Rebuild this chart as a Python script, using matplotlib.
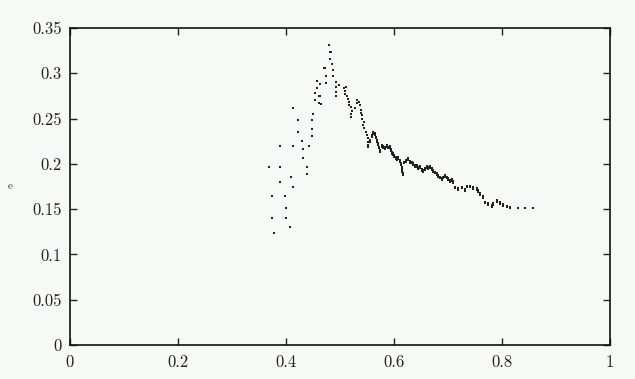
import matplotlib
matplotlib.use("Agg")
import matplotlib.pyplot as plt

# Scattered rising branch (left)
x_left = [0.3691, 0.3747, 0.3747, 0.3784, 0.3883, 0.3883, 0.3883, 0.3975, 0.4006, 0.4006,
          0.4068, 0.4099, 0.4130, 0.4130, 0.4136, 0.4228, 0.4228, 0.4290, 0.4320, 0.4320,
          0.4383, 0.4383, 0.4420, 0.4481, 0.4481, 0.4481, 0.4506, 0.4537, 0.4543, 0.4580,
          0.4580, 0.4605, 0.4611, 0.4630, 0.4640, 0.4636, 0.4704, 0.4716, 0.4735, 0.4735,
          0.4740, 0.4796, 0.4815, 0.4830, 0.4815, 0.4858, 0.4864, 0.4864, 0.4926, 0.4926,
          0.4926, 0.4926, 0.4988]
y_left = [0.1969, 0.1649, 0.1402, 0.1233, 0.2194, 0.1969, 0.1796, 0.1649, 0.1513, 0.1402,
          0.1306, 0.1855, 0.2194, 0.1741, 0.2613, 0.2481, 0.2348, 0.2252, 0.2160, 0.2065,
          0.1969, 0.1891, 0.2194, 0.2481, 0.2385, 0.2307, 0.2554, 0.2780, 0.2705, 0.2910,
          0.2834, 0.2746, 0.2668, 0.2750, 0.2660, 0.2878, 0.3055, 0.3060, 0.2974, 0.2896,
          0.2970, 0.3310, 0.3239, 0.3239, 0.3158, 0.3106, 0.3040, 0.2970, 0.2907, 0.2845,
          0.2797, 0.2746, 0.2870]

# Falling branch (middle, denser)
x_mid = [0.5080, 0.5117, 0.5099, 0.5093, 0.5123, 0.5148, 0.5173, 0.5173, 0.5198, 0.5222,
         0.5204, 0.5210, 0.5278, 0.5309, 0.5321, 0.5358, 0.5370, 0.5383, 0.5389, 0.5401,
         0.5414, 0.5432, 0.5444, 0.5451, 0.5475, 0.5494, 0.5512, 0.5525, 0.5525, 0.5556,
         0.5586, 0.5617, 0.5648, 0.5660, 0.5679, 0.5698, 0.5722, 0.5741, 0.5772, 0.5802,
         0.5833, 0.5864, 0.5895, 0.5926, 0.5944, 0.5969, 0.5988, 0.6006, 0.6031, 0.6050,
         0.6080, 0.6111, 0.6130, 0.6142, 0.6154, 0.6173]
y_mid = [0.2834, 0.2852, 0.2804, 0.2771, 0.2749, 0.2720, 0.2686, 0.2653, 0.2624, 0.2584,
         0.2551, 0.2521, 0.2613, 0.2668, 0.2705, 0.2686, 0.2650, 0.2595, 0.2565, 0.2539,
         0.2495, 0.2429, 0.2466, 0.2392, 0.2355, 0.2319, 0.2282, 0.2245, 0.2208, 0.2263,
         0.2319, 0.2355, 0.2337, 0.2300, 0.2263, 0.2227, 0.2190, 0.2153, 0.2208, 0.2197,
         0.2183, 0.2208, 0.2190, 0.2197, 0.2161, 0.2134, 0.2116, 0.2098, 0.2079, 0.2061,
         0.2079, 0.2043, 0.2006, 0.1969, 0.1932, 0.1902]

# Tail (right, dense line of points)
x_tail = [0.6191, 0.6216, 0.6253, 0.6296, 0.6327, 0.6358, 0.6389, 0.6420, 0.6451, 0.6481,
          0.6512, 0.6543, 0.6574, 0.6605, 0.6636, 0.6667, 0.6698, 0.6728, 0.6759, 0.6790,
          0.6821, 0.6852, 0.6883, 0.6914, 0.6944, 0.6975, 0.7006, 0.7037, 0.7068, 0.7099,
          0.7130, 0.7191, 0.7253, 0.7315, 0.7346, 0.7407, 0.7469, 0.7531, 0.7562, 0.7593,
          0.7654, 0.7685, 0.7747, 0.7809, 0.7840, 0.7901, 0.7963, 0.8025, 0.8086, 0.8148,
          0.8300, 0.8426, 0.8580]
y_tail = [0.2006, 0.2024, 0.2043, 0.2013, 0.2006, 0.1987, 0.1969, 0.1962, 0.1940, 0.1951,
          0.1925, 0.1914, 0.1932, 0.1951, 0.1940, 0.1951, 0.1932, 0.1914, 0.1895, 0.1877,
          0.1858, 0.1840, 0.1822, 0.1840, 0.1858, 0.1840, 0.1822, 0.1803, 0.1814, 0.1792,
          0.1730, 0.1711, 0.1730, 0.1704, 0.1741, 0.1741, 0.1719, 0.1711, 0.1693, 0.1656,
          0.1620, 0.1564, 0.1546, 0.1527, 0.1546, 0.1582, 0.1557, 0.1535, 0.1520, 0.1509,
          0.1516, 0.1516, 0.1516]

x_ticks = [0, 0.2, 0.4, 0.6, 0.8, 1]
x_tick_labels = ["0", "0.2", "0.4", "0.6", "0.8", "1"]
y_ticks = [0, 0.05, 0.1, 0.15, 0.2, 0.25, 0.3, 0.35]
y_tick_labels = ["0", "0.05", "0.1", "0.15", "0.2", "0.25", "0.3", "0.35"]

bg = "#f6faf7"
plt.rcParams["font.family"] = ["cmr10", "DejaVu Serif"]

fig = plt.figure(figsize=(6.35, 3.79), dpi=100, facecolor=bg)
ax = fig.add_axes([70 / 635, 1 - 345 / 379, 540 / 635, 317 / 379])
ax.set_facecolor(bg)

ms = 2.0
for xs, ys in ((x_left, y_left), (x_mid, y_mid), (x_tail, y_tail)):
    ax.plot(xs, ys, linestyle="none", marker="s", markersize=ms,
            color="#222222", markeredgewidth=0)
# denser look on the tail part
ax.plot(x_mid[28:], [v - 0.002 for v in y_mid[28:]], linestyle="none", marker="s",
        markersize=ms, color="#222222", markeredgewidth=0)
ax.plot(x_tail[:50], [v + 0.002 for v in y_tail[:50]], linestyle="none", marker="s",
        markersize=ms, color="#222222", markeredgewidth=0)

ax.set_xlim(0, 1)
ax.set_ylim(0, 0.35)
ax.set_xticks(x_ticks)
ax.set_xticklabels(x_tick_labels)
ax.set_yticks(y_ticks)
ax.set_yticklabels(y_tick_labels)
ax.tick_params(direction="in", length=5, width=1.0, top=True, right=True,
               labelsize=12, colors="#222222")
ax.tick_params(axis="x", pad=7)
ax.tick_params(axis="y", pad=6)
for s in ax.spines.values():
    s.set_linewidth(1.2)
    s.set_color("#111111")

fig.text(10 / 635, 1 - 186 / 379, "e", fontsize=8, ha="center", va="center",
         color="#333333")

fig.savefig("out.png", dpi=100, facecolor=bg)
